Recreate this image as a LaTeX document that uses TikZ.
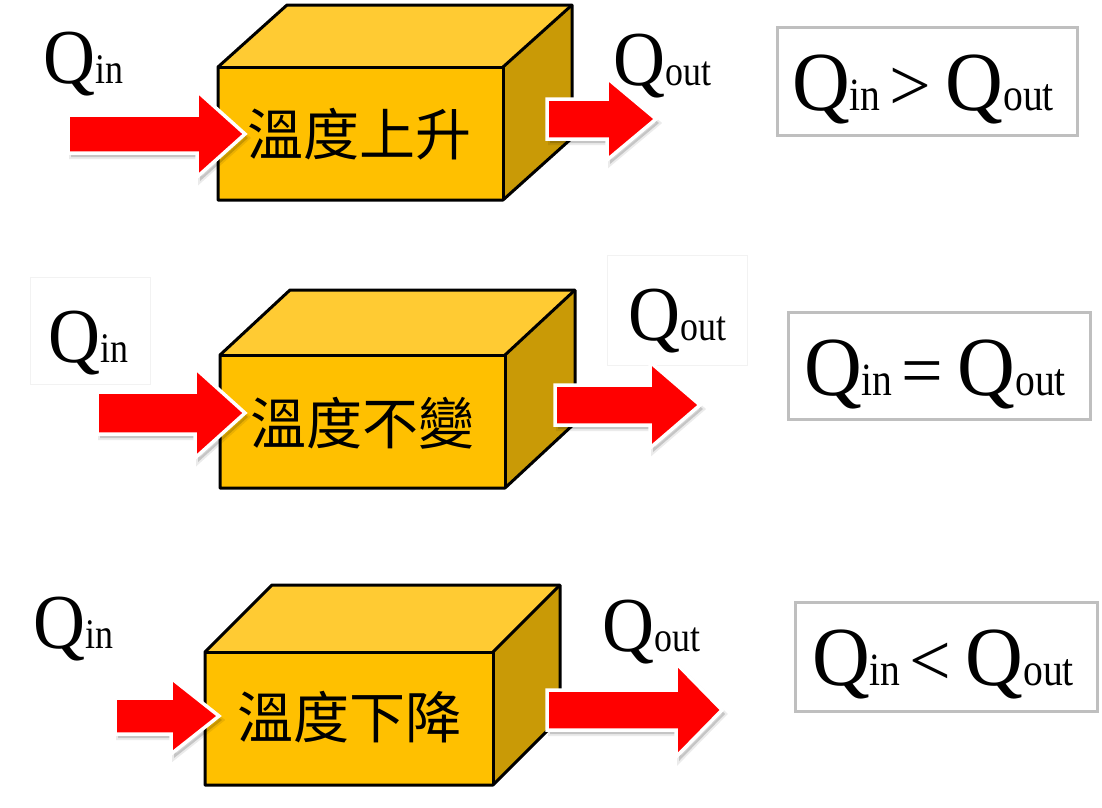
\documentclass[tikz,border=0pt]{standalone}
\usepackage{fontspec}
\setmainfont{Liberation Serif}
\newfontfamily\cjkfont{Noto Sans CJK TC}

\definecolor{faceFront}{HTML}{FFC000}
\definecolor{faceTop}{HTML}{FFCB33}
\definecolor{faceSide}{HTML}{C99A06}
\definecolor{eqframe}{HTML}{BFBFBF}

\tikzset{
  arrowbody/.style={fill=red, draw=white, line width=3.5pt, line join=miter},
  arrowshadow/.style={fill=black, opacity=0.16, draw=black, draw opacity=0.08, line width=4pt},
  cubeedge/.style={draw=black, line width=3pt, line join=round},
  cjklabel/.style={font=\cjkfont\fontsize{56}{56}\selectfont, inner sep=0pt},
  qlabel/.style={anchor=base west, inner sep=0pt},
  eqtext/.style={anchor=base west, inner sep=0pt},
  eqbox/.style={draw=eqframe, line width=3pt, inner sep=0pt},
  faintbox/.style={draw=black!5, line width=1pt, fill=white}
}

% Q with a smaller index set on the same baseline
\newcommand\qsym[1]{\scalebox{1}[1.08]{{\fontsize{72}{72}\selectfont Q}\scalebox{0.92}[1]{\fontsize{39}{39}\selectfont #1}}}
\newcommand\qbig[1]{\scalebox{1}[1.05]{{\fontsize{80}{80}\selectfont Q}\scalebox{0.9}[1]{\fontsize{44}{44}\selectfont #1}}}
\newcommand\qrel[1]{\hspace{9pt}{\fontsize{74}{74}\selectfont #1}\hspace{14pt}}

% block arrow: start x, tip x, centre y, shaft half-height, head start x, head half-height
\newcommand\heatarrow[6]{%
  \fill[arrowshadow, shift={(3,4)}] (#1,{#3-#4}) -- (#5,{#3-#4}) -- (#5,{#3-#6}) -- (#2,#3)
    -- (#5,{#3+#6}) -- (#5,{#3+#4}) -- (#1,{#3+#4}) -- cycle;
  \filldraw[arrowbody] (#1,{#3-#4}) -- (#5,{#3-#4}) -- (#5,{#3-#6}) -- (#2,#3)
    -- (#5,{#3+#6}) -- (#5,{#3+#4}) -- (#1,{#3+#4}) -- cycle;
}

% box in oblique view: name, front x1,y1,x2,y2, depth dx,dy
\newcommand\heatcube[7]{%
  \coordinate (#1-a) at (#2,#3);
  \coordinate (#1-b) at (#4,#3);
  \coordinate (#1-c) at (#4,#5);
  \coordinate (#1-d) at (#2,#5);
  \coordinate (#1-e) at ({#2+#6},{#3+#7});
  \coordinate (#1-f) at ({#4+#6},{#3+#7});
  \coordinate (#1-g) at ({#4+#6},{#5+#7});
  \fill[faceTop] (#1-a) -- (#1-e) -- (#1-f) -- (#1-b) -- cycle;
  \fill[faceSide] (#1-b) -- (#1-f) -- (#1-g) -- (#1-c) -- cycle;
  \fill[faceFront] (#1-a) rectangle (#1-c);
  \draw[cubeedge] (#1-a) -- (#1-e) -- (#1-f) -- (#1-g) -- (#1-c) -- (#1-d) -- cycle;
  \draw[cubeedge] (#1-a) -- (#1-b) -- (#1-c);
  \draw[cubeedge] (#1-b) -- (#1-f);
}

\begin{document}
\begin{tikzpicture}[x=1pt, y=-1pt]
\useasboundingbox[fill=white] (0,0) rectangle (1102,807);

% ---- temperature rises ----
\heatcube{c1}{218}{67}{503}{200}{69}{-62}
\node[cjklabel] (t1) at (359,134) {溫度上升};
\heatarrow{68}{245}{134}{19}{197}{43}
\heatarrow{547}{656}{119}{20}{607}{41}
\node[qlabel] (in1) at (43,83) {\qsym{in}};
\node[qlabel] (out1) at (613,85) {\qsym{out}};
\node[eqbox, minimum width=300pt, minimum height=108pt] (eq1) at (927,81) {};
\node[eqtext] (eqt1) at (792,110) {\qbig{in}\qrel{>}\qbig{out}};

% ---- temperature unchanged ----
\node[faintbox, minimum width=120pt, minimum height=107pt] (fin2) at (90,331) {};
\node[faintbox, minimum width=140pt, minimum height=110pt] (fout2) at (677,310) {};
\heatcube{c2}{220}{355}{505}{488}{70}{-65}
\node[cjklabel] (t2) at (362,423) {溫度不變};
\heatarrow{97}{245}{413}{21}{195}{45}
\heatarrow{555}{700}{405}{20}{650}{43}
\node[qlabel] (in2) at (48,362) {\qsym{in}};
\node[qlabel] (out2) at (628,340) {\qsym{out}};
\node[eqbox, minimum width=302pt, minimum height=107pt] (eq2) at (939,366) {};
\node[eqtext] (eqt2) at (804,395) {\qbig{in}\qrel{=}\qbig{out}};

% ---- temperature falls ----
\heatcube{c3}{205}{652}{493}{785}{67}{-67}
\node[cjklabel] (t3) at (349,717) {溫度下降};
\heatarrow{115}{219}{716}{18}{171}{38}
\heatarrow{547}{722}{710}{20}{676}{47}
\node[qlabel] (in3) at (33,648) {\qsym{in}};
\node[qlabel] (out3) at (602,651) {\qsym{out}};
\node[eqbox, minimum width=302pt, minimum height=109pt] (eq3) at (946,657) {};
\node[eqtext] (eqt3) at (812,685) {\qbig{in}\qrel{<}\qbig{out}};
\end{tikzpicture}
\end{document}
